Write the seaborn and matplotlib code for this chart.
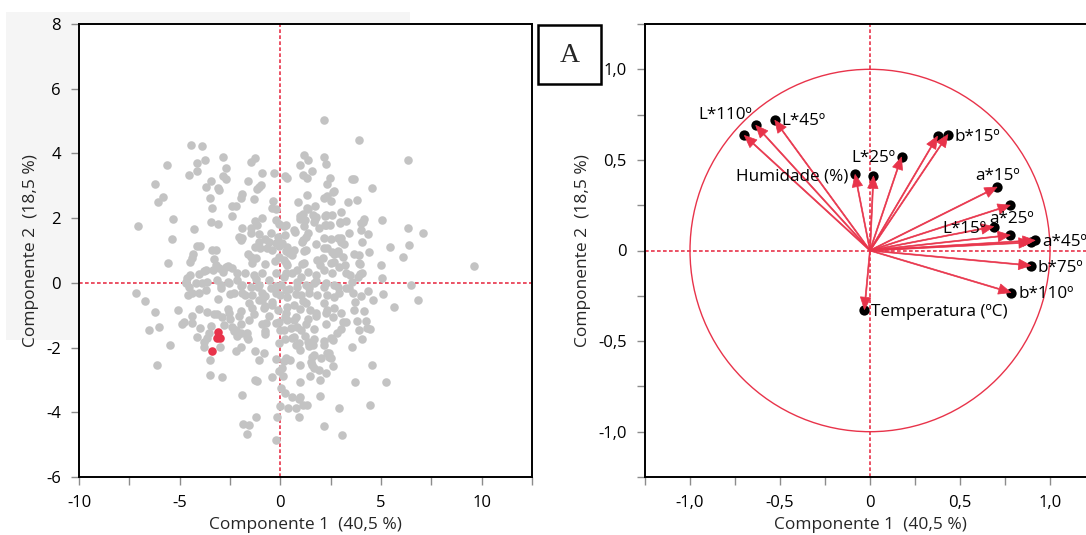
import matplotlib
matplotlib.use("Agg")
import matplotlib.pyplot as plt
from matplotlib.patches import Circle, Rectangle
import seaborn as sns

# ---- PCA scores (component 1, component 2) ----
score_pc1 = [
    2.17, 3.91, -4.46, -3.90, 6.36, 1.16, 2.17, 1.37, -1.28, -2.85,
    -3.73, -1.47, -5.62, -4.15, 0.96, 2.27, -2.68, 1.59, -4.12, -4.55,
    -0.29, -0.91, 0.21, 1.13, 0.32, 1.32, -2.87, -2.68, -1.59, -3.44,
    2.48, 3.54, 3.67, -6.24, 4.56, 2.34, -3.71, -0.96, -1.16, -3.09,
    -3.03, 2.62, -1.91, 1.32, -5.81, -3.50, -1.97, -1.33, -6.10, 0.87,
    2.17, 2.51, 3.38, 3.83, -0.34, -2.41, -2.22, 1.73, -3.37, -0.21,
    1.32, 3.03, 1.11, 1.61, 2.21, 2.56, -2.41, -5.35, 0.97, 4.17,
    5.06, -0.92, -1.25, 1.74, 3.28, 2.96, -0.22, -3.43, -3.11, -0.09,
    4.02, 2.22, 2.46, -7.08, 0.17, 2.97, -4.31, 6.36, 7.09, 4.02,
    -1.90, 1.90, 4.34, 1.37, -0.44, 0.72, 3.40, 0.24, -2.07, -1.97,
    -5.40, -0.77, 2.51, 3.01, 1.15, 6.41, 5.44, -4.15, -3.98, -1.25,
    -0.99, -3.40, -3.20, 1.78, 2.17, 2.85, 3.15, -0.05, 0.26, 1.20,
    4.39, 3.67, 6.07, -4.34, -4.41, -1.62, -1.20, -3.28, 0.56, 2.65,
    2.12, 3.93, -5.57, -4.48, -3.20, -2.58, -2.38, -0.74, -0.26, 0.27,
    1.09, 1.99, 2.51, 3.20, 3.97, 5.01, 9.64, -3.81, -2.87, -1.76,
    -1.33, -0.91, -0.22, 0.60, 1.35, 2.56, 3.45, 3.97, -4.48, -4.02,
    5.04, -4.67, -3.91, -3.16, -2.62, -2.17, -1.21, -0.56, 0.17, 0.85,
    1.76, 2.27, 3.54, 6.50, -7.18, -4.55, -3.68, -2.96, -1.93, -1.09,
    -0.22, 0.43, 1.40, 2.85, 3.42, 4.36, 5.11, -4.58, -4.03, -3.09,
    -2.50, -1.76, -0.77, -0.02, 0.80, 1.83, 2.65, 3.71, 4.60, 6.84,
    -6.72, -0.91, -0.39, 1.15, 2.17, 5.64, -5.06, -6.21, -4.02, -3.64,
    -2.62, -1.93, -1.42, -0.74, -0.14, 0.32, 0.97, 1.45, 2.34, 3.67,
    4.14, -3.13, -4.38, -2.48, -2.07, -1.33, -0.56, 0.24, 0.80, 1.37,
    1.79, 2.63, 3.11, 3.83, 4.26, -4.89, -2.79, -1.93, -0.91, -0.09,
    1.28, 2.26, 4.31, -6.50, -6.03, -3.98, -3.52, -2.31, -1.68, -0.74,
    -0.02, 0.53, 1.66, 2.79, 3.03, 3.93, 4.44, -4.15, -3.64, -2.14,
    -1.59, -0.77, 0.21, 0.58, 1.23, 1.69, 2.17, 2.60, 4.07, -5.49,
    -3.81, -3.01, -1.93, -0.09, 0.80, 1.40, 2.17, 3.54, -2.22, -1.28,
    -0.82, 0.97, 1.59, 2.31, -3.47, -1.08, -0.22, 0.17, 0.46, 1.57,
    2.00, 2.44, -6.14, 0.09, 0.97, 1.69, 2.63, 4.56, -0.09, 2.26,
    1.91, -3.47, -2.89, -0.39, 0.12, 1.45, -1.25, -1.16, 3.71, 5.26,
    0.97, 1.97, 0.03, 0.21, -1.88, 0.97, 1.98, 0.60, 0.94, -0.02,
    0.38, 0.77, 1.15, 1.32, 4.44, 2.89, -1.23, -0.17, 0.92, -1.83,
    -1.56, -1.68, 2.17, 3.08, -0.22,
    2.67, 2.34, 1.35, 0.98, 1.23, 1.76, 1.68, 2.26, 4.13, 0.68,
    1.18, 2.26, 4.08, 1.26, 1.10, 2.17, 2.84, 3.00, 2.34, 2.59,
    2.84, 3.09, 0.68, 1.26, 1.84, 1.18, 0.85, 1.01, 2.17, 1.76,
    2.67, 2.92, 3.25, 3.92, 4.08, 3.84,
    -1.06, -0.39, -1.14, -1.47, 0.27, -1.89, -1.47, -1.06, -0.14, -1.06,
    -0.56, -0.23, 0.10, 0.35, -0.64, -0.39, -1.47, -1.39, -0.06, 0.18,
    0.35, 0.43, -2.72, -3.05, -2.13, 0.27,
    -2.96, -2.55, -2.30, -1.89, -1.89, -1.47, -1.39, -1.06, -0.89, -0.48,
    -0.23, 0.02, 0.27, 0.35, -2.88, -2.55, -1.56, -1.56, -1.06, -0.81,
    -0.73, -0.39, -0.23, 0.27, 0.18, 0.35, -2.38, -2.22, -1.97, -1.64,
    0.27,
    0.85, 1.26, 1.68, 2.17, 2.67, 3.25, 3.59, 1.01, 1.43, 2.34,
    2.92, 4.00, 0.68, 1.26, 1.76, 2.26, 2.67, 3.00, 3.25, 0.68,
    0.85, 0.68, 1.01, 0.93, 1.35, 1.60, 2.51, 1.51, 1.68, 2.42,
    2.51,
    -4.71, -4.21, -3.63, -4.37, -3.30, -4.79, -4.37, -3.46, -3.80,
    -3.71, -4.62, -3.35,
]
score_pc2 = [
    5.04, 4.42, 4.27, 4.24, 3.79, 3.95, 3.88, 3.79, 3.87, 3.88,
    3.79, 3.72, 3.65, 3.69, 3.63, 3.67, 3.54, 3.47, 3.45, 3.32,
    3.41, 3.41, 3.31, 3.34, 3.24, 3.24, 3.29, 3.22, 3.15, 3.15,
    3.25, 3.22, 3.22, 3.06, 2.93, 3.05, 2.97, 3.03, 2.89, 2.93,
    2.87, 2.81, 2.75, 2.73, 2.65, 2.61, 2.63, 2.59, 2.49, 2.51,
    2.62, 2.52, 2.49, 2.56, 2.52, 2.36, 2.37, 2.39, 2.32, 2.29,
    2.30, 2.18, 2.13, 2.10, 2.08, 2.09, 2.08, 1.97, 1.97, 1.98,
    1.93, 1.99, 1.91, 1.97, 1.91, 1.87, 1.94, 1.87, 1.82, 1.82,
    1.84, 1.80, 1.80, 1.76, 1.75, 1.84, 1.67, 1.68, 1.54, 1.62,
    1.68, 1.68, 1.52, 1.55, 1.55, 1.57, 1.55, 1.49, 1.41, 1.31,
    1.35, 1.36, 1.37, 1.38, 1.33, 1.18, 1.12, 1.15, 1.15, 1.10,
    1.07, 1.03, 1.03, 1.21, 1.07, 0.99, 1.21, 1.15, 0.97, 0.99,
    0.94, 0.89, 0.80, 0.89, 0.78, 0.88, 0.78, 0.73, 0.86, 0.89,
    0.78, 0.85, 0.61, 0.64, 0.54, 0.52, 0.45, 0.57, 0.68, 0.60,
    0.59, 0.56, 0.60, 0.55, 0.57, 0.54, 0.53, 0.38, 0.34, 0.31,
    0.25, 0.31, 0.31, 0.31, 0.33, 0.31, 0.23, 0.27, 0.25, 0.27,
    0.15, 0.04, 0.01, 0.09, 0.04, 0.09, 0.12, 0.09, 0.18, 0.04,
    0.07, 0.01, 0.02, -0.07, -0.31, -0.12, -0.22, -0.17, -0.09, -0.12,
    -0.09, -0.20, -0.17, -0.14, -0.15, -0.25, -0.33, -0.38, -0.31, -0.50,
    -0.33, -0.38, -0.41, -0.38, -0.33, -0.38, -0.45, -0.59, -0.54, -0.53,
    -0.56, -0.54, -0.59, -0.56, -0.61, -0.76, -0.84, -0.91, -0.81, -0.91,
    -0.80, -0.88, -0.78, -0.70, -0.85, -0.75, -0.80, -0.85, -0.85, -0.85,
    -0.88, -0.96, -1.01, -1.12, -1.02, -0.96, -1.01, -1.04, -1.07, -1.12,
    -1.01, -1.04, -1.22, -1.17, -1.17, -1.28, -1.30, -1.28, -1.28, -1.22,
    -1.28, -1.28, -1.38, -1.47, -1.35, -1.38, -1.54, -1.49, -1.54, -1.49,
    -1.46, -1.41, -1.43, -1.54, -1.43, -1.47, -1.43, -1.67, -1.70, -1.65,
    -1.72, -1.59, -1.75, -1.70, -1.65, -1.72, -1.80, -1.78, -1.75, -1.91,
    -1.98, -1.98, -1.99, -1.86, -1.91, -1.96, -1.91, -1.98, -2.10, -2.12,
    -2.17, -2.07, -2.28, -2.17, -2.38, -2.38, -2.36, -2.41, -2.38, -2.54,
    -2.33, -2.30, -2.54, -2.63, -2.54, -2.62, -2.57, -2.54, -2.73, -2.78,
    -2.70, -2.86, -2.91, -2.91, -2.89, -2.89, -3.00, -3.02, -3.05, -3.07,
    -3.05, -3.00, -3.25, -3.39, -3.46, -3.52, -3.51, -3.54, -3.60, -3.81,
    -3.88, -3.86, -3.78, -3.78, -3.76, -3.88, -4.14, -4.15, -4.15, -4.37,
    -4.39, -4.67, -4.41, -4.70, -4.85,
    2.84, 2.67, 2.28, 2.07, 1.94, 2.05, 1.89, 2.09, 1.89, 1.64,
    1.76, 1.80, 1.27, 1.43, 1.27, 1.38, 1.38, 1.27, 1.07, 0.96,
    0.92, 0.81, 1.02, 1.02, 0.71, 0.61, 0.40, 0.19, 0.40, 0.24,
    0.66, 0.50, 0.30, 0.61, 0.30, 0.19,
    2.96, 2.31, 1.79, 1.69, 1.79, 1.38, 1.53, 1.51, 1.43, 1.27,
    1.27, 1.22, 1.22, 1.12, 1.07, 1.02, 0.81, 0.61, 0.81, 0.71,
    0.55, 0.92, 0.50, 0.45, 0.30, 0.30,
    -0.06, -0.01, -0.32, -0.06, -0.32, -0.12, -0.37, -0.06, -0.32, -0.17,
    -0.32, -0.06, -0.22, -0.43, -1.05, -0.94, -0.63, -1.15, -0.53, -0.79,
    -1.25, -0.68, -1.25, -0.94, -1.46, -1.15, -1.35, -1.46, -1.56, -1.66,
    -2.33,
    -0.12, -0.06, -0.01, -0.12, -0.06, -0.17, -0.32, -0.37, -0.32, -0.37,
    -0.32, -0.40, -0.68, -0.63, -0.94, -0.94, -0.79, -0.94, -1.20, -1.15,
    -1.35, -1.66, -1.46, -1.87, -1.82, -1.92, -1.71, -2.44, -2.23, -2.18,
    -2.33,
    -0.01, -0.01, 0.04, -0.32, -0.97, -1.20, -1.25, -1.33, -1.82,
    0.40, 0.14, 0.40,
]

# highlighted samples
focus_pc1 = [-3.10, -3.14, -2.98, -3.40]
focus_pc2 = [-1.52, -1.70, -1.70, -2.12]

# ---- variable loadings ----
load_pc1 = [-0.698, -0.635, -0.529, 0.375, 0.433, 0.175, -0.083, 0.019, 0.706,
            0.779, 0.687, 0.779, 0.917, 0.895, 0.894, 0.783, -0.031]
load_pc2 = [0.635, 0.691, 0.719, 0.631, 0.640, 0.516, 0.420, 0.411, 0.350,
            0.250, 0.132, 0.085, 0.056, 0.045, -0.083, -0.232, -0.326]
load_names = ["", "L*110º", "L*45º", "", "b*15º", "L*25º", "Humidade (%)", "",
              "a*15º", "", "L*15º", "a*25º", "a*45º", "", "b*75º", "b*110º",
              "Temperatura (ºC)"]
# label placement: (dx, dy) in pixels and horizontal alignment
load_offsets = [None, (-4, 10), (7, -1), None, (7, -2), (-6, -1), (-7, -2), None,
                (0, 11), None, (-7, -2), (1, 16), (7, -2), None, (7, -2), (8, -1),
                (7, -2)]
load_ha = [None, "right", "left", None, "left", "right", "right", None,
           "center", None, "right", "center", "left", None, "left", "left", "left"]

# ---- axes text ----
xlabel_text = "Componente 1  (40,5 %)"
ylabel_text = "Componente 2  (18,5 %)"
left_xticks = [-10, -5, 0, 5, 10]
left_xticklabels = ["-10", "-5", "0", "5", "10"]
left_xminor = [-7.5, -2.5, 2.5, 7.5, 12.5]
left_yticks = [-6, -4, -2, 0, 2, 4, 6, 8]
left_yticklabels = ["-6", "-4", "-2", "0", "2", "4", "6", "8"]
right_ticks = [-1.0, -0.5, 0, 0.5, 1.0]
right_ticklabels = ["-1,0", "-0,5", "0", "0,5", "1,0"]
right_minor = [-1.25, -0.75, -0.25, 0.25, 0.75, 1.25]
panel_tag = "A"

RED = "#e8334a"
GREY = "#c3c3c3"
FS = 12

sns.set_theme(style="ticks")
plt.rcParams["font.family"] = ["Open Sans", "DejaVu Sans"]

fig = plt.figure(figsize=(10.86, 5.35), dpi=100)
W, H = 1086, 535

# pale panel behind the left chart
fig.patches.append(Rectangle((6 / W, 1 - 340 / H), 404 / W, 328 / H,
                             transform=fig.transFigure, facecolor="#f5f5f5",
                             edgecolor="none", zorder=-5))

ax1 = fig.add_axes([79 / W, 58 / H, 453 / W, 453 / H])
ax2 = fig.add_axes([645 / W, 58 / H, 450 / W, 453 / H])


def style_axes(ax):
    for sp in ax.spines.values():
        sp.set_color("black")
        sp.set_linewidth(1.4)
    ax.tick_params(which="both", direction="out", length=6, width=1,
                   color="#8c8c8c", labelsize=FS, labelcolor="black", pad=7)
    ax.set_xlabel(xlabel_text, fontsize=12.5, labelpad=4)
    ax.set_ylabel(ylabel_text, fontsize=12.5, labelpad=5)


dash = (0, (2.2, 1.4))

# ---- left: score plot ----
sns.scatterplot(x=score_pc1, y=score_pc2, color=GREY, s=38, linewidth=0,
                ax=ax1, zorder=2)
sns.scatterplot(x=focus_pc1, y=focus_pc2, color=RED, s=38, linewidth=0,
                ax=ax1, zorder=3)
ax1.axhline(0, color=RED, lw=1.2, ls=dash, zorder=1)
ax1.axvline(0, color=RED, lw=1.2, ls=dash, zorder=1)
ax1.set_xlim(-10, 12.5)
ax1.set_ylim(-6, 8)
ax1.set_xticks(left_xticks)
ax1.set_xticklabels(left_xticklabels)
ax1.set_xticks(left_xminor, minor=True)
ax1.set_yticks(left_yticks)
ax1.set_yticklabels(left_yticklabels)
style_axes(ax1)

# ---- right: correlation circle ----
ax2.add_patch(Circle((0, 0), 1.0, fill=False, edgecolor=RED, lw=1.0, zorder=1))
ax2.axhline(0, color=RED, lw=1.2, ls=dash, zorder=1)
ax2.axvline(0, color=RED, lw=1.2, ls=dash, zorder=1)
sns.scatterplot(x=load_pc1, y=load_pc2, color="black", s=55, linewidth=0,
                ax=ax2, zorder=2)
# loading vectors: tip of each arrow sits exactly on its loading point
for vx, vy in zip(load_pc1, load_pc2):
    ax2.arrow(0, 0, vx, vy, width=0.006, head_width=0.058, head_length=0.068,
              length_includes_head=True, facecolor=RED, edgecolor=RED,
              lw=0.5, zorder=6)
for vx, vy, name, off, ha in zip(load_pc1, load_pc2, load_names, load_offsets, load_ha):
    if name:
        ax2.annotate(name, xy=(vx, vy), xytext=off, textcoords="offset pixels",
                     ha=ha, va="center", fontsize=12.3, color="black", zorder=7)
ax2.set_xlim(-1.25, 1.25)
ax2.set_ylim(-1.25, 1.25)
ax2.set_xticks(right_ticks)
ax2.set_xticklabels(right_ticklabels)
ax2.set_xticks(right_minor, minor=True)
ax2.set_yticks(right_ticks)
ax2.set_yticklabels(right_ticklabels)
ax2.set_yticks(right_minor, minor=True)
style_axes(ax2)
ax2.spines["right"].set_visible(False)

# panel tag box
fig.patches.append(Rectangle((538 / W, 1 - 84 / H), 63 / W, 59 / H,
                             transform=fig.transFigure, facecolor="white",
                             edgecolor="black", lw=1.8, zorder=5))
fig.text(569.5 / W, 1 - 55 / H, panel_tag, ha="center", va="center",
         fontsize=20, family="Liberation Serif", zorder=6)

fig.savefig("out.png", dpi=100)
